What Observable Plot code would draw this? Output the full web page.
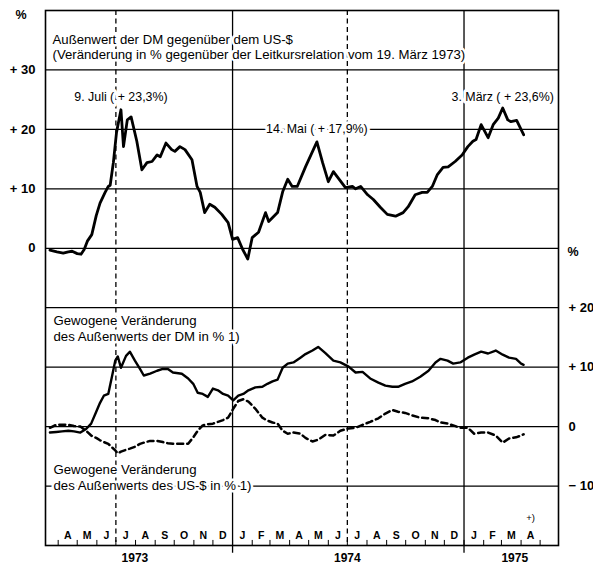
<!DOCTYPE html>
<html>
<head>
<meta charset="utf-8">
<script src="https://cdn.jsdelivr.net/npm/d3@7"></script>
<script src="https://cdn.jsdelivr.net/npm/@observablehq/plot@0.6"></script>
<style>
  html, body { margin: 0; padding: 0; background: #fff; }
  #chart svg { display: block; }
</style>
</head>
<body>
<div id="chart"></div>
<script>
// ---- Data ----
// Top panel: Außenwert der DM gegenüber dem US-$ (% vs. Leitkursrelation 19. März 1973)
const topDates = [
  "1973-03-19","1973-03-30","1973-04-09","1973-04-17","1973-04-23","1973-05-01","1973-05-07","1973-05-12",
  "1973-05-17","1973-05-24","1973-05-31","1973-06-06","1973-06-14","1973-06-19","1973-06-22","1973-06-27",
  "1973-07-02","1973-07-09","1973-07-13","1973-07-19","1973-07-25","1973-08-03","1973-08-11","1973-08-19",
  "1973-08-27","1973-09-04","1973-09-09","1973-09-18","1973-09-27","1973-10-02","1973-10-10","1973-10-18",
  "1973-10-29","1973-11-06","1973-11-11","1973-11-18","1973-11-26","1973-12-04","1973-12-15","1973-12-25",
  "1974-01-01","1974-01-09","1974-01-17","1974-01-25","1974-02-01","1974-02-11","1974-02-22","1974-02-27",
  "1974-03-13","1974-03-21","1974-03-29","1974-04-05","1974-04-13","1974-04-26","1974-05-14","1974-05-23",
  "1974-06-01","1974-06-09","1974-06-28","1974-07-09","1974-07-14","1974-07-22","1974-08-02","1974-08-11",
  "1974-08-22","1974-09-02","1974-09-15","1974-09-27","1974-10-05","1974-10-16","1974-10-27","1974-11-04",
  "1974-11-12","1974-11-20","1974-11-29","1974-12-07","1974-12-18","1974-12-29","1975-01-07","1975-01-15",
  "1975-01-20","1975-01-28","1975-02-08","1975-02-16","1975-02-24","1975-03-03","1975-03-11","1975-03-16",
  "1975-03-25","1975-04-05"
];
const topValues = [
  -0.3,-0.6,-0.8,-0.6,-0.5,-0.9,-1.0,-0.2,
  1.2,2.3,5.5,7.6,9.4,10.4,10.6,14.4,
  19.5,23.3,17.1,21.6,22.1,18.0,13.2,14.4,
  14.6,15.7,15.4,17.7,16.6,16.3,17.1,16.6,
  14.9,10.4,9.4,6.0,7.4,6.9,5.7,4.3,
  1.5,1.8,-0.2,-1.8,1.8,2.7,6.0,4.5,
  6.0,9.5,11.6,10.4,10.4,13.7,17.9,14.4,
  11.2,12.9,10.2,10.4,10.0,10.4,9.0,8.2,
  6.9,5.7,5.4,6.0,7.0,9.0,9.4,9.4,
  10.4,12.4,13.6,13.7,14.6,15.7,17.1,18.0,
  18.3,20.8,18.6,20.8,21.9,23.6,21.6,21.3,
  21.5,19.1
];

// Bottom panel: gewogene Veränderung des Außenwerts der DM / des US-$ (%)
const bottomDates = [
  "1973-03-19","1973-03-29","1973-04-07","1973-04-17","1973-04-26","1973-05-06","1973-05-15","1973-05-23",
  "1973-05-31","1973-06-06","1973-06-12","1973-06-19","1973-06-25","1973-06-30","1973-07-04","1973-07-09",
  "1973-07-17","1973-07-23","1973-07-31","1973-08-08","1973-08-14","1973-08-24","1973-09-04","1973-09-13",
  "1973-09-21","1973-09-29","1973-10-13","1973-10-23","1973-10-31","1973-11-07","1973-11-15","1973-11-23",
  "1973-12-01","1973-12-09","1973-12-17","1973-12-25","1974-01-02","1974-01-10","1974-01-18","1974-01-26",
  "1974-02-06","1974-02-17","1974-02-25","1974-03-05","1974-03-13","1974-03-21","1974-03-29","1974-04-07",
  "1974-04-18","1974-04-26","1974-05-07","1974-05-16","1974-05-27","1974-06-09","1974-06-20","1974-07-03",
  "1974-07-14","1974-07-25","1974-08-06","1974-08-19","1974-08-30","1974-09-10","1974-09-19","1974-09-30",
  "1974-10-11","1974-10-24","1974-11-06","1974-11-17","1974-11-25","1974-12-06","1974-12-15","1974-12-26",
  "1975-01-07","1975-01-17","1975-01-28","1975-02-08","1975-02-20","1975-03-03","1975-03-13","1975-03-24",
  "1975-04-01","1975-04-05"
];
const bottomDM = [
  -1.0,-0.9,-0.8,-0.7,-0.8,-1.0,-0.4,0.5,
  2.5,4.0,5.2,5.5,8.5,11.1,11.8,9.9,
  11.9,12.6,11.1,9.7,8.6,8.9,9.4,9.7,
  9.7,9.1,8.9,8.1,7.2,5.7,5.5,5.0,
  6.4,6.1,5.5,5.2,4.4,5.2,5.5,6.1,
  6.6,6.7,7.2,7.6,7.9,9.9,10.6,10.8,
  11.6,12.2,12.8,13.4,12.4,11.1,10.8,10.1,
  9.1,9.2,8.1,7.4,6.9,6.7,6.7,7.2,
  7.6,8.4,9.4,10.8,11.4,11.1,10.6,10.8,
  11.6,12.1,12.6,12.3,12.8,12.1,11.6,11.4,
  10.6,10.4
];
const bottomUS = [
  -0.2,0.3,0.3,0.3,0.1,0.0,-0.7,-1.5,
  -1.9,-2.3,-2.6,-2.9,-3.5,-4.0,-4.5,-4.2,
  -3.9,-3.7,-3.4,-2.9,-2.7,-2.4,-2.4,-2.6,
  -2.8,-2.9,-2.9,-2.9,-1.8,-0.7,0.2,0.4,
  0.5,0.8,1.1,1.5,3.0,4.3,4.6,4.2,
  3.0,1.5,1.0,0.7,0.5,-0.7,-1.2,-1.0,
  -1.2,-1.9,-2.5,-2.2,-1.4,-1.5,-0.7,-0.3,
  -0.2,0.3,0.8,1.4,2.2,2.8,2.5,2.3,
  1.9,1.5,1.4,1.1,0.7,0.5,0.2,-0.2,
  -0.2,-1.2,-1.0,-1.0,-1.5,-2.7,-2.0,-1.8,
  -1.5,-1.3
];

// Axis ticks / labels
const topTicks = [30, 20, 10, 0];
const topTickLabels = ["+ 30", "+ 20", "+ 10", "0"];
const bottomTicks = [20, 10, 0, -10];
const bottomTickLabels = ["+ 20", "+ 10", "0", "\u2212 10"];
const panelOffset = 30; // lower panel's zero lies 30 units below upper panel's zero
const monthLabels = ["A","M","J","J","A","S","O","N","D","J","F","M","A","M","J","J","A","S","O","N","D","J","F","M","A"];
const yearLabels = ["1973", "1974", "1975"];
const yearLabelDates = ["1973-07-31", "1974-07-01", "1975-03-22"];
const solidYearLines = ["1974-01-01", "1975-01-01"];
const dashedHalfYearLines = ["1973-07-01", "1974-07-01"];

const titleLines = [
  "Außenwert der DM gegenüber dem US-$",
  "(Veränderung in % gegenüber der Leitkursrelation vom 19. März 1973)"
];
const peakLabels = [
  {date: "1973-07-09", text: "9. Juli ( + 23,3%)", y: 25.4},
  {date: "1974-05-14", text: "14. Mai ( + 17,9%)", y: 20},
  {date: "1975-03-03", text: "3. März ( + 23,6%)", y: 25.4}
];
const dmLabel = ["Gewogene Veränderung", "des Außenwerts der DM in % 1)"];
const usLabel = ["Gewogene Veränderung", "des Außenwerts des US-$ in % 1)"];

// ---- Build ----
const P = s => new Date(s + "T00:00:00Z");
const xDomain = [P("1973-03-12"), P("1975-05-30")];
const topData = topDates.map((d, i) => ({date: P(d), v: topValues[i]}));
const bottomData = bottomDates.map((d, i) => ({date: P(d), dm: bottomDM[i], us: bottomUS[i]}));
const yMin = -50, yMax = 40;

const monthStarts = d3.utcMonth.range(P("1973-04-01"), P("1975-05-02"));
const monthMids = monthLabels.map((m, i) => ({date: new Date(+monthStarts[i] + (monthStarts[i + 1] - monthStarts[i]) / 2), m}));

const font = "'Liberation Sans', Arial, Helvetica, sans-serif";
const xStart = xDomain[0], xEnd = xDomain[1];

const chart = Plot.plot({
  width: 593,
  height: 564,
  marginLeft: 45,
  marginRight: 35,
  marginTop: 10,
  marginBottom: 19,
  style: {fontFamily: font, background: "#fff", color: "#000", overflow: "visible"},
  x: {type: "utc", domain: xDomain, axis: null},
  y: {domain: [yMin, yMax], axis: null},
  marks: [
    // horizontal grid lines
    Plot.ruleY(topTicks, {y: d => d, stroke: "#000", strokeWidth: 1.2}),
    Plot.ruleY(bottomTicks, {y: d => d - panelOffset, stroke: "#000", strokeWidth: 1.2}),
    // vertical year / half-year lines
    Plot.ruleX(solidYearLines, {x: d => P(d), y1: yMax, y2: yMin - 1.3, stroke: "#000", strokeWidth: 1.3}),
    Plot.ruleX(dashedHalfYearLines, {x: d => P(d), y1: yMax, y2: yMin, stroke: "#000", strokeWidth: 1.3, strokeDasharray: "5,3.5"}),
    // month ticks
    Plot.ruleX(monthStarts, {x: d => d, y1: yMin, y2: yMin + 0.85, stroke: "#000", strokeWidth: 1}),
    // frame
    Plot.frame({stroke: "#000", strokeWidth: 1.6}),
    // title block
    Plot.text(titleLines, {x: () => xStart, y: (d, i) => [35.1, 32.5][i], text: d => d, dx: 7, textAnchor: "start",
      fontSize: 13.2, fill: "#000", stroke: "#fff", strokeWidth: 5}),
    // peak annotations
    Plot.text(peakLabels, {x: d => P(d.date), y: "y", text: "text", fontSize: 12.4, fill: "#000", stroke: "#fff", strokeWidth: 6}),
    // panel labels
    Plot.text(dmLabel, {x: () => xStart, y: (d, i) => [17.8, 15.1][i] - panelOffset, text: d => d, dx: 8, textAnchor: "start",
      fontSize: 13.2, fill: "#000", stroke: "#fff", strokeWidth: 5}),
    Plot.text(usLabel, {x: () => xStart, y: (d, i) => [-7.3, -10.0][i] - panelOffset, text: d => d, dx: 8, textAnchor: "start",
      fontSize: 13.2, fill: "#000", stroke: "#fff", strokeWidth: 5}),
    // left axis labels
    Plot.text(topTicks, {x: () => xStart, y: d => d, text: (d, i) => topTickLabels[i], dx: -10, textAnchor: "end",
      fontSize: 13, fontWeight: "bold", fill: "#000"}),
    Plot.text(["%"], {x: () => xStart, y: 39.2, text: d => d, dx: -19, textAnchor: "end", fontSize: 12.5, fontWeight: "bold", fill: "#000"}),
    // right axis labels
    Plot.text(bottomTicks, {x: () => xEnd, y: d => d - panelOffset, text: (d, i) => bottomTickLabels[i],
      dx: 10, textAnchor: "start", fontSize: 13, fontWeight: "bold", fill: "#000"}),
    Plot.text(["%"], {x: () => xEnd, y: 29.3 - panelOffset, text: d => d, dx: 9, textAnchor: "start", fontSize: 12.5, fontWeight: "bold", fill: "#000"}),
    // month and year labels
    Plot.text(monthMids, {x: "date", y: yMin, text: "m", dy: -10, fontSize: 10.5, fontWeight: "bold", fill: "#000"}),
    Plot.text(yearLabels, {x: (d, i) => P(yearLabelDates[i]), y: yMin, text: d => d, dy: 13, fontSize: 12, fontWeight: "bold", fill: "#000"}),
    Plot.text(["+)"], {x: () => monthMids[24].date, y: -15.3 - panelOffset, text: d => d, fontSize: 9.5, fill: "#000"}),
    // data lines
    Plot.line(topData, {x: "date", y: "v", stroke: "#000", strokeWidth: 2.8, strokeLinejoin: "round"}),
    Plot.line(bottomData, {x: "date", y: d => d.dm - panelOffset, stroke: "#000", strokeWidth: 2.4, strokeLinejoin: "round"}),
    Plot.line(bottomData, {x: "date", y: d => d.us - panelOffset, stroke: "#000", strokeWidth: 2.5, strokeDasharray: "6,4", strokeLinejoin: "round"})
  ]
});
document.getElementById("chart").appendChild(chart);
</script>
</body>
</html>
